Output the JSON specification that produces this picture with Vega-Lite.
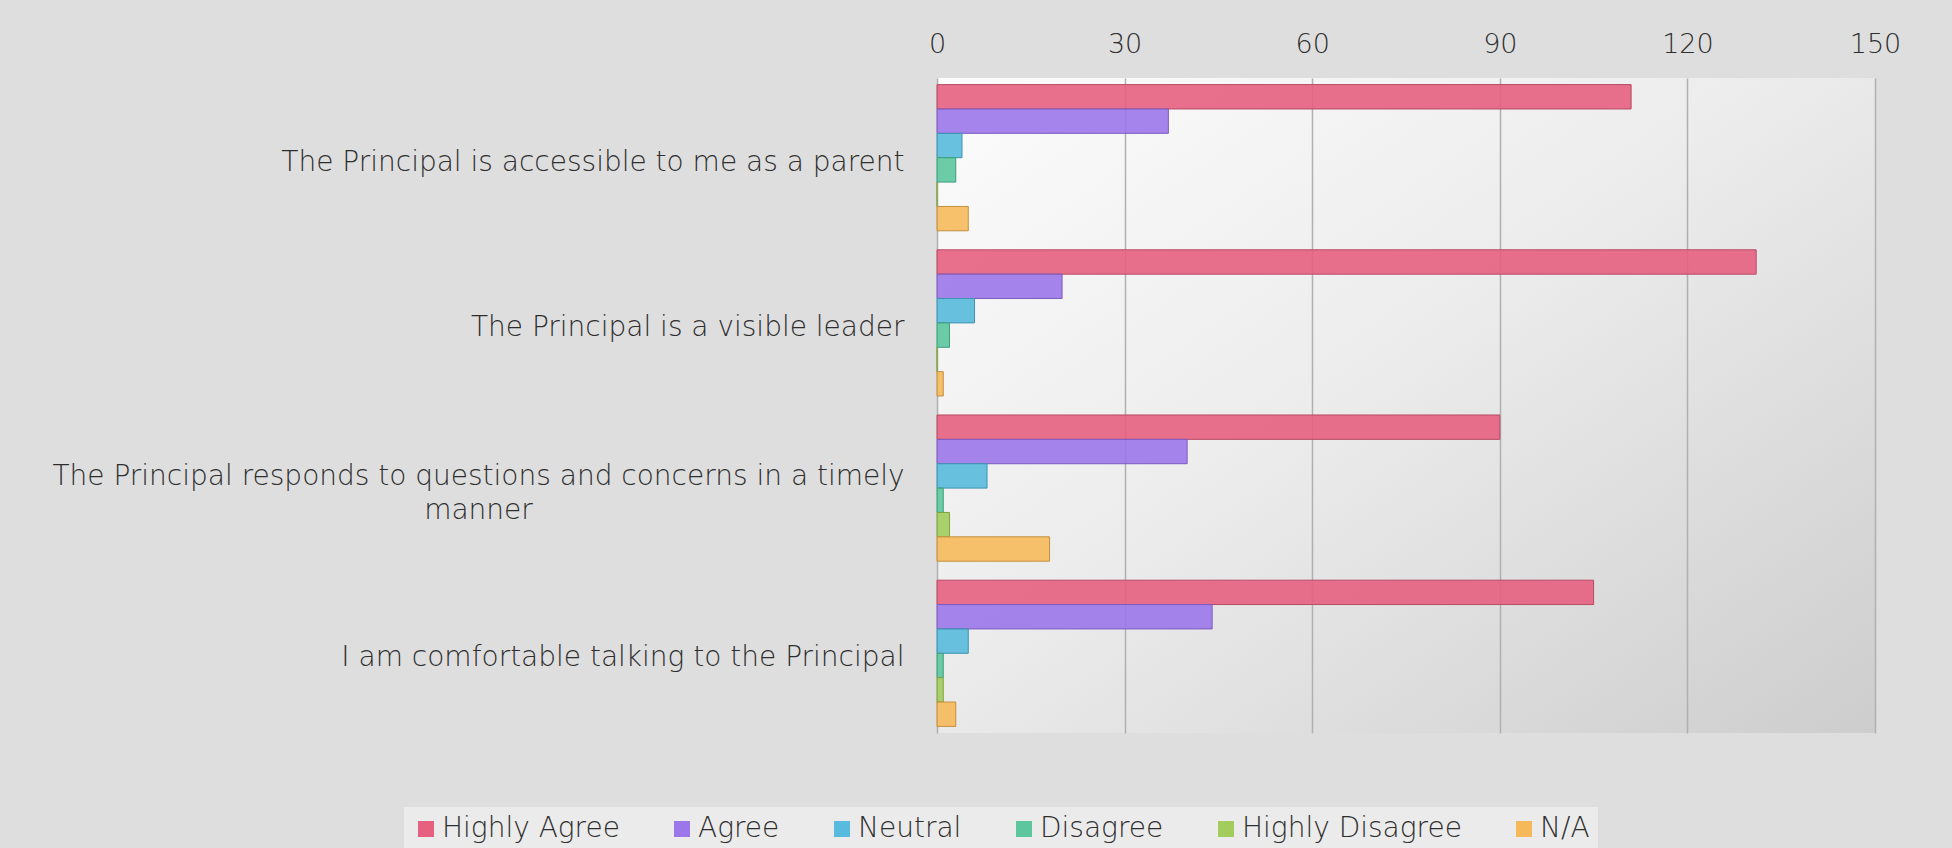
{
  "$schema": "https://vega.github.io/schema/vega-lite/v6.json",
  "autosize": {"type": "none"},
  "padding": {"left": 937, "top": 78, "right": 77, "bottom": 115},
  "width": 938,
  "height": 655,
  "background": "#dedede",
  "config": {
    "view": {"stroke": null, "fill": {"gradient": "linear", "x1": 0, "y1": 0, "x2": 1, "y2": 1, "stops": [{"offset": 0, "color": "#fcfcfc"}, {"offset": 0.45, "color": "#ececec"}, {"offset": 1, "color": "#cdcdcd"}]}},
    "font": "DejaVu Sans"
  },
  "data": {
    "values": [
      {"q": "The Principal is accessible to me as a parent", "cat": "Highly Agree", "v": 111},
      {"q": "The Principal is accessible to me as a parent", "cat": "Agree", "v": 37},
      {"q": "The Principal is accessible to me as a parent", "cat": "Neutral", "v": 4},
      {"q": "The Principal is accessible to me as a parent", "cat": "Disagree", "v": 3},
      {"q": "The Principal is accessible to me as a parent", "cat": "Highly Disagree", "v": 0},
      {"q": "The Principal is accessible to me as a parent", "cat": "N/A", "v": 5},
      {"q": "The Principal is a visible leader", "cat": "Highly Agree", "v": 131},
      {"q": "The Principal is a visible leader", "cat": "Agree", "v": 20},
      {"q": "The Principal is a visible leader", "cat": "Neutral", "v": 6},
      {"q": "The Principal is a visible leader", "cat": "Disagree", "v": 2},
      {"q": "The Principal is a visible leader", "cat": "Highly Disagree", "v": 0},
      {"q": "The Principal is a visible leader", "cat": "N/A", "v": 1},
      {"q": "The Principal responds to questions and concerns in a timely manner", "cat": "Highly Agree", "v": 90},
      {"q": "The Principal responds to questions and concerns in a timely manner", "cat": "Agree", "v": 40},
      {"q": "The Principal responds to questions and concerns in a timely manner", "cat": "Neutral", "v": 8},
      {"q": "The Principal responds to questions and concerns in a timely manner", "cat": "Disagree", "v": 1},
      {"q": "The Principal responds to questions and concerns in a timely manner", "cat": "Highly Disagree", "v": 2},
      {"q": "The Principal responds to questions and concerns in a timely manner", "cat": "N/A", "v": 18},
      {"q": "I am comfortable talking to the Principal", "cat": "Highly Agree", "v": 105},
      {"q": "I am comfortable talking to the Principal", "cat": "Agree", "v": 44},
      {"q": "I am comfortable talking to the Principal", "cat": "Neutral", "v": 5},
      {"q": "I am comfortable talking to the Principal", "cat": "Disagree", "v": 1},
      {"q": "I am comfortable talking to the Principal", "cat": "Highly Disagree", "v": 1},
      {"q": "I am comfortable talking to the Principal", "cat": "N/A", "v": 3}
    ]
  },
  "mark": {"type": "bar", "fillOpacity": 0.9, "strokeWidth": 1},
  "encoding": {
    "y": {
      "field": "q", "type": "nominal",
      "sort": ["The Principal is accessible to me as a parent", "The Principal is a visible leader", "The Principal responds to questions and concerns in a timely manner", "I am comfortable talking to the Principal"],
      "scale": {"paddingInner": 0.115, "paddingOuter": 0.04},
      "axis": {
        "title": null, "domain": false, "ticks": false,
        "labelPadding": {"condition": {"test": "datum.value == 'The Principal responds to questions and concerns in a timely manner'", "value": 459}, "value": 33},
        "labelAlign": {"condition": {"test": "datum.value == 'The Principal responds to questions and concerns in a timely manner'", "value": "center"}, "value": "right"},
        "labelOffset": {"condition": {"test": "datum.value == 'The Principal responds to questions and concerns in a timely manner'", "value": -11}, "value": 5},
        "labelFontSize": 28, "labelFont": "DejaVu Sans", "labelFontWeight": 200, "labelColor": "#2e2e2e", "labelLimit": 1200, "labelLineHeight": 34,
        "labelExpr": "datum.label == 'The Principal responds to questions and concerns in a timely manner' ? ['The Principal responds to questions and concerns in a timely', 'manner'] : datum.label"
      }
    },
    "yOffset": {
      "field": "cat", "type": "nominal",
      "sort": ["Highly Agree", "Agree", "Neutral", "Disagree", "Highly Disagree", "N/A"],
      "scale": {"paddingInner": 0, "paddingOuter": 0}
    },
    "x": {
      "field": "v", "type": "quantitative",
      "scale": {"domain": [0, 150], "nice": false},
      "axis": {
        "orient": "top", "title": null, "values": [0, 30, 60, 90, 120, 150],
        "domain": false, "ticks": false, "grid": true, "gridColor": "#b0b0b0", "gridWidth": 1.5,
        "labelFontSize": 27, "labelFont": "DejaVu Sans", "labelFontWeight": 200, "labelColor": "#2e2e2e", "labelPadding": 20, "labelFlush": false
      }
    },
    "color": {
      "field": "cat", "type": "nominal",
      "sort": ["Highly Agree", "Agree", "Neutral", "Disagree", "Highly Disagree", "N/A"],
      "scale": {"domain": ["Highly Agree", "Agree", "Neutral", "Disagree", "Highly Disagree", "N/A"], "range": ["#e6617f", "#9b77ea", "#58badc", "#5cc79f", "#a2cc5c", "#f6b95a"]},
      "legend": {
        "title": null, "orient": "none", "direction": "horizontal", "legendX": -533, "legendY": 729,
        "symbolType": "square", "symbolSize": 256, "symbolStrokeWidth": 0, "symbolOpacity": 1,
        "labelFontSize": 28, "labelFont": "DejaVu Sans", "labelFontWeight": 200, "labelColor": "#2e2e2e", "labelOffset": 2, "labelLimit": 400,
        "columnPadding": 48, "padding": 8, "fillColor": "#ebebeb"
      }
    },
    "stroke": {
      "field": "cat", "type": "nominal",
      "scale": {"domain": ["Highly Agree", "Agree", "Neutral", "Disagree", "Highly Disagree", "N/A"], "range": ["#b84a64", "#7c5cc0", "#3f93b0", "#3f9f7c", "#7fa440", "#c48f3e"]},
      "legend": null
    }
  }
}
